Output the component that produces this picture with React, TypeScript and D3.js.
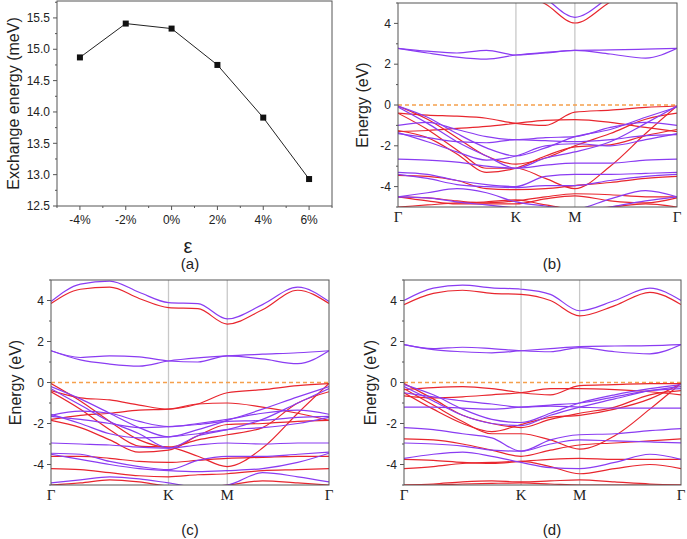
import React from 'react';
import * as d3 from 'd3';

// panel (a): exchange energy vs strain
const strainValues = [-4, -2, 0, 2, 4, 6];
const strainLabels = ['-4%', '-2%', '0%', '2%', '4%', '6%'];
const exchangeEnergy = [14.87, 15.41, 15.33, 14.75, 13.91, 12.93];
const energyTicks = [12.5, 13.0, 13.5, 14.0, 14.5, 15.0, 15.5];

// band structure panels: k path and labels
const kPoints = [0, 0.25, 0.5, 0.75, 1.0, 1.25, 1.5, 1.8, 2.1, 2.366];
const kLabelPos = [0, 1.0, 1.5, 2.366];
const kLabels = ['Γ', 'K', 'M', 'Γ'];
const bandTicks = [-4, -2, 0, 2, 4];

// (b)
const bandsUpB = [
  [2.78, 2.55, 2.35, 2.25, 2.45, 2.58, 2.68, 2.7, 2.74, 2.78],
  [2.78, 2.64, 2.55, 2.68, 2.45, 2.55, 2.68, 2.5, 2.3, 2.78],
  [6.5, 6.5, 6.5, 6.3, 5.9, 5.2, 4.3, 5.3, 6.2, 6.5],
  [-0.05, -0.6, -1.4, -2.1, -2.5, -2.1, -1.55, -1.2, -0.6, -0.1],
  [-0.1, -0.9, -1.8, -2.5, -3.1, -2.6, -2.3, -1.8, -0.9, -0.05],
  [-1.0, -0.85, -1.2, -1.55, -1.7, -1.6, -1.55, -1.1, -0.85, -1.0],
  [-1.4, -1.6, -1.8, -1.85, -1.7, -1.75, -1.8, -1.7, -1.5, -1.45],
  [-1.35, -1.8, -2.3, -2.7, -2.5, -2.0, -1.9, -2.0, -1.7, -1.4],
  [-2.65, -2.7, -2.8, -3.0, -3.1, -2.95, -2.85, -2.85, -2.7, -2.65],
  [-3.3, -3.4, -3.7, -3.9, -4.0, -3.5, -3.4, -3.4, -3.35, -3.3],
  [-3.4, -3.6, -3.9, -4.0, -4.05, -3.95, -3.95, -3.7, -3.5, -3.4],
  [-4.5, -4.3, -4.1, -4.3, -4.75, -4.95, -5.1, -4.6, -4.2, -4.5],
  [-4.5, -4.55, -4.75, -4.9, -5.05, -5.2, -5.3, -5.0, -4.7, -4.5],
];
const bandsDownB = [
  [6.2, 6.2, 6.2, 6.0, 5.6, 4.95, 4.02, 5.05, 6.0, 6.2],
  [-0.4, -0.5, -0.55, -0.65, -0.9, -1.0, -0.35, -0.25, -0.12, -0.05],
  [-1.3, -1.25, -1.15, -1.05, -0.9, -0.75, -0.72, -0.85, -1.1, -1.3],
  [-0.05, -0.7, -1.6, -2.5, -2.9, -2.6, -2.0, -1.4, -0.7, -0.4],
  [-0.4, -1.2, -2.2, -3.1, -3.1, -3.6, -4.1, -3.0, -1.4, -0.05],
  [-1.25, -1.6, -2.4, -3.3, -3.1, -2.5, -2.05, -1.95, -1.5, -1.2],
  [-3.45, -3.5, -3.7, -4.1, -4.15, -4.1, -3.95, -3.8, -3.6, -3.5],
  [-4.5, -4.55, -4.7, -4.8, -4.7, -4.5, -4.35, -4.4, -4.5, -4.5],
  [-4.5, -4.7, -4.85, -4.85, -4.85, -4.6, -4.45, -4.7, -4.8, -4.55],
  [-5.0, -4.9, -4.8, -4.75, -4.65, -4.9, -5.1, -5.0, -4.85, -5.0],
];

// (c)
const bandsUpC = [
  [3.95, 4.8, 4.95, 4.4, 3.9, 3.85, 3.1, 3.8, 4.65, 3.95],
  [1.55, 1.1, 0.9, 0.8, 1.05, 1.2, 1.3, 1.38, 1.45, 1.55],
  [1.55, 1.22, 1.3, 1.25, 1.05, 1.0, 1.3, 1.15, 0.92, 1.55],
  [-0.2, -0.8, -1.5, -2.2, -2.65, -2.3, -1.85, -1.3, -0.7, -0.2],
  [-0.3, -1.1, -1.9, -2.5, -3.2, -2.6, -2.3, -1.8, -1.0, -0.3],
  [-1.6, -1.4, -1.5, -1.9, -2.15, -2.0, -1.8, -1.5, -1.35, -1.55],
  [-1.65, -1.8, -2.0, -2.2, -2.15, -2.05, -1.9, -1.85, -1.7, -1.65],
  [-1.55, -2.0, -2.5, -2.7, -2.65, -2.5, -2.3, -2.2, -2.0, -1.7],
  [-2.95, -3.0, -3.05, -3.15, -3.2, -3.05, -2.95, -3.0, -2.95, -2.95],
  [-3.45, -3.5, -3.85, -4.1, -4.25, -3.8, -3.6, -3.6, -3.5, -3.4],
  [-3.5, -3.75, -4.0, -4.2, -4.3, -4.35, -4.3, -4.2, -3.9, -3.45],
  [-4.9, -4.75, -4.6, -4.7, -4.9, -5.1, -5.0, -4.4, -4.6, -4.85],
];
const bandsDownC = [
  [3.85, 4.55, 4.65, 4.1, 3.65, 3.6, 2.85, 3.55, 4.5, 3.85],
  [-0.4, -0.75, -0.85, -1.1, -1.3, -1.05, -0.5, -0.35, -0.15, -0.05],
  [-1.8, -1.6, -1.5, -1.35, -1.3, -1.05, -1.0, -1.2, -1.5, -1.85],
  [-0.05, -0.9, -1.9, -2.8, -3.15, -2.8, -2.55, -2.2, -1.0, -0.45],
  [-0.45, -1.3, -2.3, -3.1, -3.15, -3.6, -4.1, -3.2, -1.5, -0.05],
  [-1.85, -2.2, -2.8, -3.4, -3.3, -2.6, -2.05, -2.0, -1.9, -1.85],
  [-3.6, -3.6, -3.7, -3.85, -3.9, -3.8, -3.7, -3.65, -3.6, -3.6],
  [-4.2, -4.25, -4.4, -4.55, -4.6, -4.5, -4.45, -4.3, -4.25, -4.2],
  [-5.0, -4.9, -4.75, -4.85, -5.05, -5.1, -5.0, -4.8, -4.9, -5.0],
];

// (d)
const bandsUpD = [
  [4.0, 4.6, 4.75, 4.62, 4.55, 4.3, 3.5, 4.0, 4.6, 4.0],
  [1.85, 1.6, 1.5, 1.45, 1.55, 1.65, 1.75, 1.78, 1.8, 1.85],
  [1.85, 1.65, 1.72, 1.65, 1.55, 1.5, 1.7, 1.5, 1.4, 1.85],
  [-0.1, -0.6, -1.3, -1.8, -1.95, -1.5, -1.0, -0.6, -0.3, -0.1],
  [-0.2, -0.9, -1.6, -2.0, -2.1, -1.6, -1.2, -0.8, -0.4, -0.2],
  [-0.5, -0.7, -0.9, -1.05, -1.2, -1.15, -1.2, -1.25, -1.25, -1.25],
  [-1.2, -1.2, -1.25, -1.3, -1.2, -1.1, -1.0, -0.7, -0.4, -0.3],
  [-2.2, -2.3, -2.5, -2.7, -3.35, -2.8, -2.55, -2.5, -2.35, -2.25],
  [-2.95, -3.0, -3.1, -3.3, -3.35, -3.0, -2.8, -2.85, -2.9, -2.95],
  [-3.7, -3.5, -3.4, -3.6, -3.9, -4.15, -4.2, -3.9, -3.5, -3.75],
];
const bandsDownD = [
  [3.8, 4.35, 4.5, 4.35, 4.3, 4.0, 3.25, 3.75, 4.4, 3.8],
  [-0.35, -0.25, -0.2, -0.3, -0.5, -0.6, -0.15, -0.1, -0.05, -0.05],
  [-0.65, -0.75, -0.7, -0.6, -0.5, -0.3, -0.3, -0.35, -0.45, -0.6],
  [-0.05, -0.8, -1.6, -2.0, -2.2, -1.8, -1.5, -1.2, -0.6, -0.4],
  [-0.5, -1.3, -2.0, -2.4, -2.05, -1.7, -1.6, -1.3, -0.8, -0.05],
  [-0.3, -1.1, -1.9, -2.5, -2.5, -2.8, -3.25, -2.6, -1.3, -0.05],
  [-2.75, -2.8, -3.0, -3.3, -3.6, -3.3, -3.05, -2.95, -2.85, -2.75],
  [-3.75, -3.8, -3.9, -3.95, -3.85, -3.75, -3.7, -3.75, -3.75, -3.75],
  [-4.2, -4.1, -3.95, -3.9, -3.85, -4.1, -4.45, -4.2, -4.0, -4.2],
  [-5.0, -4.95, -4.85, -4.8, -4.85, -4.8, -4.75, -4.85, -4.95, -5.0],
  [-5.0, -5.0, -4.95, -4.92, -4.9, -4.95, -5.0, -5.0, -5.0, -5.0],
];

const SANS = '"Liberation Sans", Arial, sans-serif';
const SERIF = '"Liberation Serif", "Times New Roman", serif';
const RED = '#e8262e';
const PURPLE = '#8a3cf2';

function ExchangePanel() {
  const box = { left: 57, right: 332, top: 1, bottom: 206 };
  const x = d3.scaleLinear().domain([-5, 7]).range([box.left, box.right]);
  const y = d3.scaleLinear().domain([12.5, 15.77]).range([box.bottom, box.top]);
  const line = d3.line<number>().x((_, i) => x(strainValues[i])).y(d => y(d));
  const minorX = d3.range(-5, 8, 1).filter(v => v % 2 !== 0);
  const minorY = d3.range(12.75, 15.77, 0.5);
  return (
    <g>
      <rect x={box.left} y={box.top} width={box.right - box.left} height={box.bottom - box.top}
        fill="none" stroke="#555" strokeWidth={1} />
      {energyTicks.map(t => (
        <g key={t}>
          <line x1={box.left - 4} x2={box.left} y1={y(t)} y2={y(t)} stroke="#555" />
          <text x={box.left - 7} y={y(t)} dy="0.35em" textAnchor="end" fontSize={12}
            fontFamily={SANS} fill="#222">{t.toFixed(1)}</text>
        </g>
      ))}
      {minorY.map(t => (
        <line key={t} x1={box.left - 2} x2={box.left} y1={y(t)} y2={y(t)} stroke="#555" />
      ))}
      {strainValues.map((v, i) => (
        <g key={v}>
          <line x1={x(v)} x2={x(v)} y1={box.bottom} y2={box.bottom + 4} stroke="#555" />
          <text x={x(v)} y={box.bottom + 18} textAnchor="middle" fontSize={12}
            fontFamily={SANS} fill="#222">{strainLabels[i]}</text>
        </g>
      ))}
      {minorX.map(v => (
        <line key={v} x1={x(v)} x2={x(v)} y1={box.bottom} y2={box.bottom + 2} stroke="#555" />
      ))}
      <path d={line(exchangeEnergy) || ''} fill="none" stroke="#222" strokeWidth={1} />
      {exchangeEnergy.map((e, i) => (
        <rect key={i} x={x(strainValues[i]) - 3} y={y(e) - 3} width={6} height={6} fill="#111" />
      ))}
      <text transform={`translate(13,${(box.top + box.bottom) / 2}) rotate(-90)`} textAnchor="middle"
        dominantBaseline="central" fontSize={16} fontFamily={SANS} fill="#222">Exchange energy (meV)</text>
      <text x={188} y={253} textAnchor="middle" fontSize={20} fontFamily={SANS} fill="#222">ε</text>
      <text x={190} y={269} textAnchor="middle" fontSize={15} fontFamily={SANS} fill="#222">(a)</text>
    </g>
  );
}

type Box = { left: number; right: number; top: number; bottom: number };

function BandPanel({ id, box, up, down, yLabelX, tag, tagX, tagY }:
  { id: string; box: Box; up: number[][]; down: number[][]; yLabelX: number; tag: string; tagX: number; tagY: number }) {
  const x = d3.scaleLinear().domain([0, 2.366]).range([box.left, box.right]);
  const y = d3.scaleLinear().domain([-5, 5]).range([box.bottom, box.top]);
  const line = d3.line<number>().x((_, i) => x(kPoints[i])).y(d => y(d)).curve(d3.curveMonotoneX);
  const minor = [-5, -3, -1, 1, 3, 5];
  return (
    <g>
      <defs>
        <clipPath id={id}>
          <rect x={box.left} y={box.top} width={box.right - box.left} height={box.bottom - box.top} />
        </clipPath>
      </defs>
      {[1.0, 1.5].map(k => (
        <line key={k} x1={x(k)} x2={x(k)} y1={box.top} y2={box.bottom} stroke="#c8c8c8" strokeWidth={1.3} />
      ))}
      <line x1={box.left} x2={box.right} y1={y(0)} y2={y(0)} stroke="#f5a04c" strokeWidth={1.5}
        strokeDasharray="4,3" />
      <g clipPath={`url(#${id})`}>
        {down.map((b, i) => (
          <path key={'d' + i} d={line(b) || ''} fill="none" stroke={RED} strokeWidth={1.2} />
        ))}
        {up.map((b, i) => (
          <path key={'u' + i} d={line(b) || ''} fill="none" stroke={PURPLE} strokeWidth={1.2} />
        ))}
      </g>
      <rect x={box.left} y={box.top} width={box.right - box.left} height={box.bottom - box.top}
        fill="none" stroke="#555" strokeWidth={1} />
      {bandTicks.map(t => (
        <g key={t}>
          <line x1={box.left - 4} x2={box.left} y1={y(t)} y2={y(t)} stroke="#555" />
          <text x={box.left - 7} y={y(t)} dy="0.35em" textAnchor="end" fontSize={12}
            fontFamily={SANS} fill="#222">{t}</text>
        </g>
      ))}
      {minor.map(t => (
        <line key={t} x1={box.left - 2} x2={box.left} y1={y(t)} y2={y(t)} stroke="#555" />
      ))}
      {kLabelPos.map((k, i) => (
        <text key={i} x={x(k)} y={box.bottom + 15} textAnchor="middle" fontSize={15}
          fontFamily={SERIF} fill="#222">{kLabels[i]}</text>
      ))}
      <text transform={`translate(${yLabelX},${(box.top + box.bottom) / 2}) rotate(-90)`} textAnchor="middle"
        dominantBaseline="central" fontSize={16} fontFamily={SANS} fill="#222">Energy (eV)</text>
      <text x={tagX} y={tagY} textAnchor="middle" fontSize={15} fontFamily={SANS} fill="#222">{tag}</text>
    </g>
  );
}

export default function App() {
  return (
    <svg width={687} height={539} style={{ position: 'absolute', left: 0, top: 0, background: '#fff' }}>
      <rect width={687} height={539} fill="#fff" />
      <ExchangePanel />
      <BandPanel id="clipB" box={{ left: 398, right: 677, top: 3, bottom: 207 }} up={bandsUpB}
        down={bandsDownB} yLabelX={362} tag="(b)" tagX={552} tagY={269} />
      <BandPanel id="clipC" box={{ left: 51, right: 329, top: 280, bottom: 485 }} up={bandsUpC}
        down={bandsDownC} yLabelX={15} tag="(c)" tagX={190} tagY={535} />
      <BandPanel id="clipD" box={{ left: 404, right: 681, top: 280, bottom: 485 }} up={bandsUpD}
        down={bandsDownD} yLabelX={370} tag="(d)" tagX={552} tagY={535} />
    </svg>
  );
}
